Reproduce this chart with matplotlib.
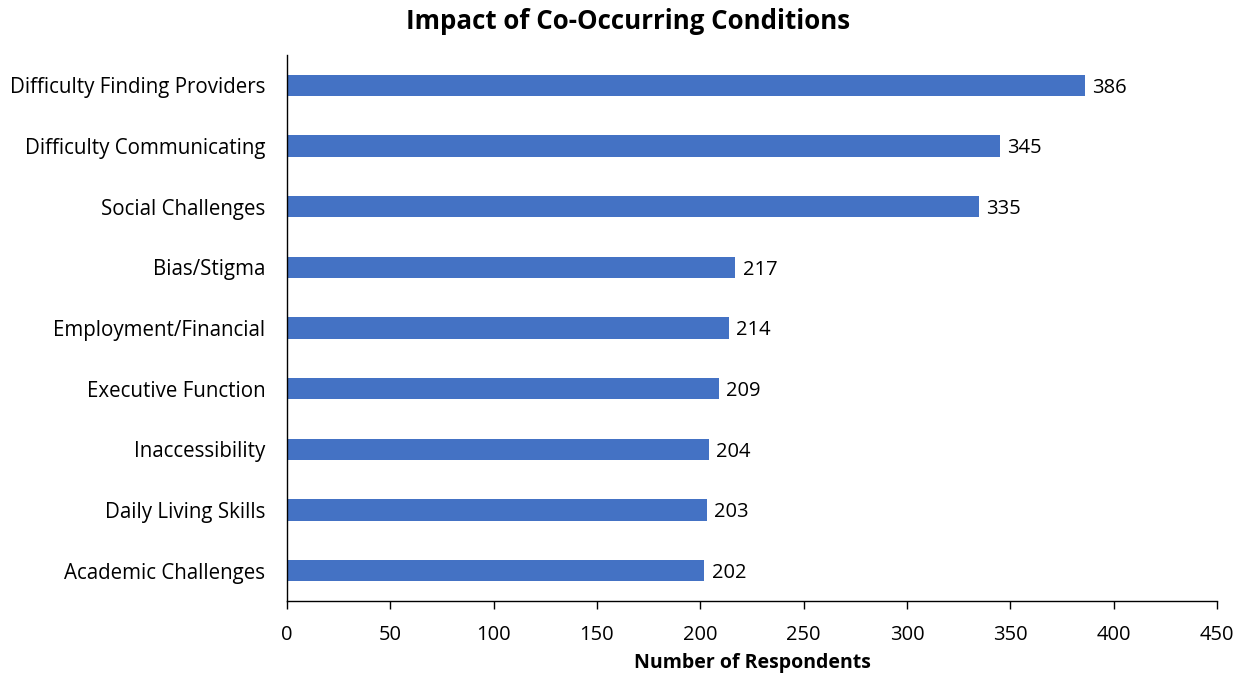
import matplotlib
matplotlib.use("Agg")
import matplotlib.pyplot as plt

categories = [
    "Difficulty Finding Providers",
    "Difficulty Communicating",
    "Social Challenges",
    "Bias/Stigma",
    "Employment/Financial",
    "Executive Function",
    "Inaccessibility",
    "Daily Living Skills",
    "Academic Challenges",
]
respondents = [386, 345, 335, 217, 214, 209, 204, 203, 202]
x_ticks = [0, 50, 100, 150, 200, 250, 300, 350, 400, 450]

plt.rcParams["font.family"] = ["Open Sans", "DejaVu Sans"]

fig = plt.figure(figsize=(12.45, 6.79), dpi=100)
ax = fig.add_axes([0.2305, 0.115, 0.747, 0.804])

positions = list(range(len(categories)))[::-1]
bars = ax.barh(positions, respondents, height=0.35, color="#4472C4")

for pos, val in zip(positions, respondents):
    ax.text(val + 3.5, pos, str(val), va="center_baseline", ha="left", fontsize=14.5, color="black")

ax.set_ylim(-0.5, len(categories) - 0.5)
ax.set_xlim(0, 450)
ax.set_xticks(x_ticks)
ax.set_xticklabels([str(t) for t in x_ticks], fontsize=14.5)
ax.set_yticks(positions)
ax.set_yticklabels(categories, fontsize=14.8)
ax.tick_params(axis="y", length=0, pad=15.5)
ax.tick_params(axis="x", length=6, width=1, direction="out", pad=11)

for side in ("top", "right"):
    ax.spines[side].set_visible(False)
for side in ("left", "bottom"):
    ax.spines[side].set_linewidth(1)
    ax.spines[side].set_color("black")

ax.set_xlabel("Number of Respondents", fontsize=14, fontweight="bold", labelpad=6)
fig.text(0.5045, 0.968, "Impact of Co-Occurring Conditions", ha="center", va="center",
         fontsize=18.6, fontweight="bold")

fig.savefig("out.png", dpi=100)
